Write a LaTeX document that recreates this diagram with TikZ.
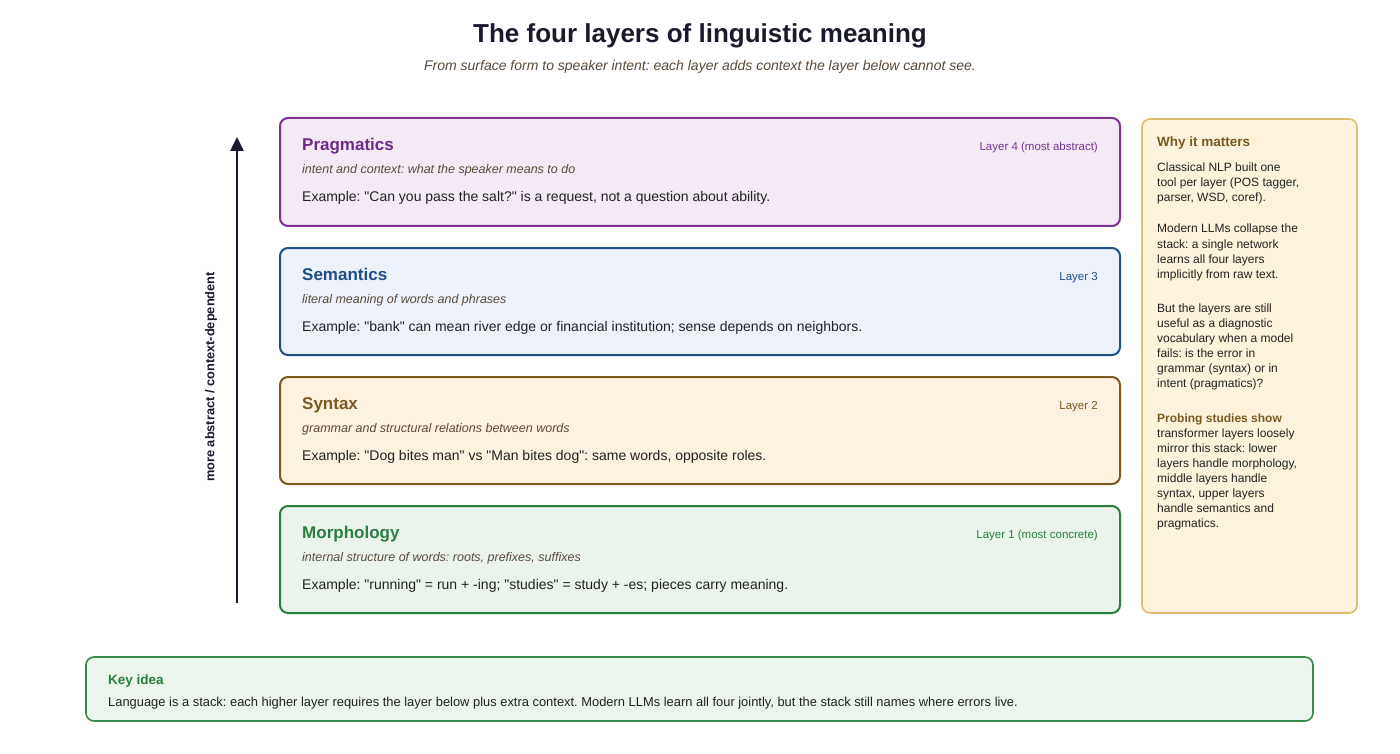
\documentclass[tikz,border=0pt]{standalone}
\usepackage{fontspec}
\setmainfont{Liberation Sans}[Ligatures=TeXOff]
\usetikzlibrary{arrows.meta}
\frenchspacing
\definecolor{ink}{HTML}{1A1A2E}
\definecolor{subc}{HTML}{5A4A3A}
\definecolor{body}{HTML}{222222}
\definecolor{pragB}{HTML}{7B3294}\definecolor{pragF}{HTML}{F3EAF6}\definecolor{pragT}{HTML}{6E2A88}
\definecolor{semB}{HTML}{1F4E89}\definecolor{semF}{HTML}{EDF2FA}\definecolor{semT}{HTML}{1F4E89}
\definecolor{synB}{HTML}{7A5A1E}\definecolor{synF}{HTML}{FDF1E0}\definecolor{synT}{HTML}{7A5A1E}
\definecolor{morB}{HTML}{2A7F3E}\definecolor{morF}{HTML}{EAF4EC}\definecolor{morT}{HTML}{2A7F3E}
\definecolor{whyB}{HTML}{D9BF6E}\definecolor{whyF}{HTML}{FDF3DC}\definecolor{whyT}{HTML}{7A5A1E}
\definecolor{keyB}{HTML}{3A8A4E}\definecolor{keyF}{HTML}{EBF5ED}
\tikzset{
  layerbox/.style={draw=#1B, fill=#1F, line width=2pt, rounded corners=8pt},
  ltitle/.style={anchor=base west, inner sep=0pt, font=\fontsize{17}{20}\selectfont\bfseries, text=#1},
  lsub/.style={anchor=base west, inner sep=0pt, font=\fontsize{12.5}{15}\selectfont\itshape, text=subc},
  lex/.style={anchor=base west, inner sep=0pt, font=\fontsize{14}{17}\selectfont, text=body},
  lnum/.style={anchor=base east, inner sep=0pt, font=\fontsize{11.5}{14}\selectfont, text=#1},
  wline/.style={anchor=base west, inner sep=0pt, font=\fontsize{12}{15}\selectfont, text=body},
}
\begin{document}
\begin{tikzpicture}[x=1pt,y=-1pt]
\useasboundingbox[fill=white] (0,0) rectangle (1400,754);
% title
\node[inner sep=0pt, anchor=base, font=\fontsize{26}{30}\selectfont\bfseries, text=ink] (title) at (700,43) {The four layers of linguistic meaning};
\node[inner sep=0pt, anchor=base, font=\fontsize{14}{17}\selectfont\itshape, text=subc] (subtitle) at (700,71) {From surface form to speaker intent: each layer adds context the layer below cannot see.};
% layer boxes
\path[layerbox=prag] (280,118) rectangle (1120,226);
\node[ltitle=pragT] (pragt) at (302,151) {Pragmatics};
\node[lsub] (prags) at (302,174) {intent and context: what the speaker means to do};
\node[lex] (prage) at (302,202) {Example: "Can you pass the salt?" is a request, not a question about ability.};
\node[lnum=pragB] (pragn) at (1098,151) {Layer 4 (most abstract)};

\path[layerbox=sem] (280,248) rectangle (1120,355);
\node[ltitle=semT] (semt) at (302,280) {Semantics};
\node[lsub] (sems) at (302,303) {literal meaning of words and phrases};
\node[lex] (seme) at (302,331) {Example: "bank" can mean river edge or financial institution; sense depends on neighbors.};
\node[lnum=semB] (semn) at (1098,280) {Layer 3};

\path[layerbox=syn] (280,377) rectangle (1120,484);
\node[ltitle=synT] (synt) at (302,409) {Syntax};
\node[lsub] (syns) at (302,432) {grammar and structural relations between words};
\node[lex] (syne) at (302,460) {Example: "Dog bites man" vs "Man bites dog": same words, opposite roles.};
\node[lnum=synB] (synn) at (1098,409) {Layer 2};

\path[layerbox=mor] (280,506) rectangle (1120,613);
\node[ltitle=morT] (mort) at (302,538) {Morphology};
\node[lsub] (mors) at (302,561) {internal structure of words: roots, prefixes, suffixes};
\node[lex] (more) at (302,589) {Example: "running" = run + -ing; "studies" = study + -es; pieces carry meaning.};
\node[lnum=morB] (morn) at (1098,538) {Layer 1 (most concrete)};
% arrow
\coordinate (arrlo) at (237,603);
\coordinate (arrhi) at (237,137);
\draw[ink, line width=2.5pt, -{Triangle[length=14pt,width=13pt]}] (arrlo) -- (arrhi);
\node[rotate=90, inner sep=0pt, font=\fontsize{12.8}{15}\selectfont\bfseries, text=ink] (arrlab) at (211,377) {more abstract / context-dependent};
% why it matters panel
\path[draw=whyB, fill=whyF, line width=1.6pt, rounded corners=8pt] (1142,119) rectangle (1357,613);
\node[anchor=base west, inner sep=0pt, font=\fontsize{13.5}{16}\selectfont\bfseries, text=whyT] (whyt) at (1157,147) {Why it matters};
\node[wline] (w1) at (1157,172) {Classical NLP built one};
\node[wline] (w2) at (1157,187) {tool per layer (POS tagger,};
\node[wline] (w3) at (1157,202) {parser, WSD, coref).};
\node[wline] (w4) at (1157,233) {Modern LLMs collapse the};
\node[wline] (w5) at (1157,248) {stack: a single network};
\node[wline] (w6) at (1157,263) {learns all four layers};
\node[wline] (w7) at (1157,278) {implicitly from raw text.};
\node[wline] (w8) at (1157,312) {But the layers are still};
\node[wline] (w9) at (1157,327) {useful as a diagnostic};
\node[wline] (w10) at (1157,342) {vocabulary when a model};
\node[wline] (w11) at (1157,357) {fails: is the error in};
\node[wline] (w12) at (1157,372) {grammar (syntax) or in};
\node[wline] (w13) at (1157,387) {intent (pragmatics)?};
\node[wline, text=whyT, font=\fontsize{12}{15}\selectfont\bfseries] (w14) at (1157,422) {Probing studies show};
\node[wline] (w15) at (1157,437) {transformer layers loosely};
\node[wline] (w16) at (1157,452) {mirror this stack: lower};
\node[wline] (w17) at (1157,467) {layers handle morphology,};
\node[wline] (w18) at (1157,482) {middle layers handle};
\node[wline] (w19) at (1157,497) {syntax, upper layers};
\node[wline] (w20) at (1157,512) {handle semantics and};
\node[wline] (w21) at (1157,527) {pragmatics.};
% key idea
\path[draw=keyB, fill=keyF, line width=1.6pt, rounded corners=8pt] (86,657) rectangle (1313,721);
\node[anchor=base west, inner sep=0pt, font=\fontsize{13.5}{16}\selectfont\bfseries, text=morT] (keyt) at (108,684) {Key idea};
\node[anchor=base west, inner sep=0pt, font=\fontsize{12.9}{15}\selectfont, text=body] (keyx) at (108,706) {Language is a stack: each higher layer requires the layer below plus extra context. Modern LLMs learn all four jointly, but the stack still names where errors live.};
\end{tikzpicture}
\end{document}
